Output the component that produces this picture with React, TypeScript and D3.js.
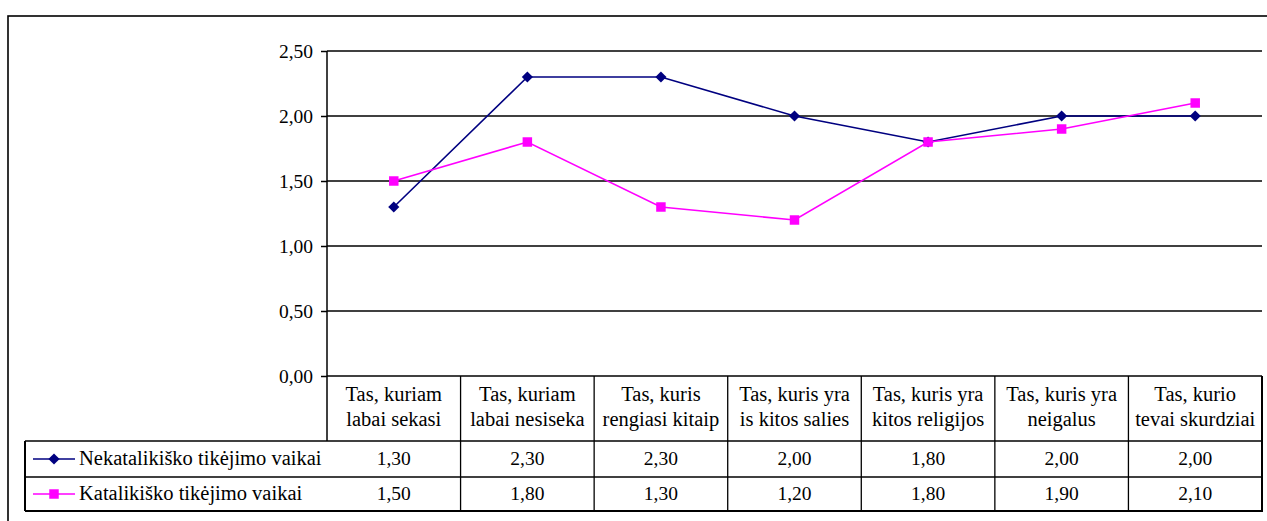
import React, { useEffect, useRef } from "react";
import * as d3 from "d3";

// categories (two text lines each, as in the table header)
const categories = [
  ["Tas, kuriam", "labai sekasi"],
  ["Tas, kuriam", "labai nesiseka"],
  ["Tas, kuris", "rengiasi kitaip"],
  ["Tas, kuris yra", "is kitos salies"],
  ["Tas, kuris yra", "kitos religijos"],
  ["Tas, kuris yra", "neigalus"],
  ["Tas, kurio", "tevai skurdziai"],
];
const seriesNames = ["Nekatalikiško tikėjimo vaikai", "Katalikiško tikėjimo vaikai"];
const nekatalikiskoValues = [1.3, 2.3, 2.3, 2.0, 1.8, 2.0, 2.0];
const katalikiskoValues = [1.5, 1.8, 1.3, 1.2, 1.8, 1.9, 2.1];
const yTicks = [0, 0.5, 1.0, 1.5, 2.0, 2.5];

var W = 1267, H = 521;
var plotLeft = 327, plotRight = 1262, plotTop = 51, plotBottom = 376;
var rowHead = 441, row1 = 477, row2 = 511, legendLeft = 25;
var font = "'Liberation Serif', 'Times New Roman', serif";

const fmt = (v: number) => d3.format(".2f")(v).replace(".", ",");

function App() {
  const ref = useRef<SVGSVGElement>(null);

  useEffect(() => {
    const svg = d3.select(ref.current);
    svg.selectAll("*").remove();

    const keys = categories.map((c, i) => String(i));
    const x = d3.scaleBand().domain(keys).range([plotLeft, plotRight]);
    const y = d3.scaleLinear().domain([0, 2.5]).range([plotBottom, plotTop]);

    // outer chart frame (runs off the picture right and bottom)
    svg.append("rect")
      .attr("x", 8).attr("y", 16)
      .attr("width", W).attr("height", H)
      .attr("fill", "white")
      .attr("stroke", "black").attr("stroke-width", 1.6);

    // gridlines
    svg.append("g")
      .selectAll("line")
      .data(yTicks.filter(t => t > 0))
      .join("line")
      .attr("x1", plotLeft).attr("x2", plotRight)
      .attr("y1", d => y(d)).attr("y2", d => y(d))
      .attr("stroke", "black").attr("stroke-width", 1.5);

    // y axis
    const ax = svg.append("g")
      .attr("transform", `translate(${plotLeft},0)`)
      .call(d3.axisLeft(y).tickValues(yTicks).tickSize(6).tickPadding(8).tickFormat((d: any) => fmt(+d)));
    ax.select(".domain").remove();
    ax.attr("font-family", null).attr("font-size", null);
    ax.selectAll("line").attr("stroke", "black").attr("stroke-width", 1.5);
    ax.selectAll("text")
      .style("font-family", font)
      .style("font-size", "19.5px")
      .attr("fill", "black");
    svg.append("line")
      .attr("x1", plotLeft).attr("x2", plotLeft)
      .attr("y1", plotTop).attr("y2", rowHead)
      .attr("stroke", "black").attr("stroke-width", 1.5);

    // data table
    const tbl = svg.append("g").attr("stroke", "black").attr("stroke-width", 1.3);
    tbl.append("line").attr("x1", plotLeft).attr("x2", plotRight).attr("y1", plotBottom).attr("y2", plotBottom).attr("stroke-width", 1.5);
    [rowHead, row1].forEach(yy => {
      tbl.append("line").attr("x1", legendLeft).attr("x2", plotRight).attr("y1", yy).attr("y2", yy);
    });
    tbl.append("line").attr("x1", legendLeft).attr("x2", plotRight + 1).attr("y1", row2).attr("y2", row2).attr("stroke-width", 2);
    tbl.append("line").attr("x1", legendLeft).attr("x2", legendLeft).attr("y1", rowHead).attr("y2", row2).attr("stroke-width", 2);
    tbl.append("line").attr("x1", plotRight).attr("x2", plotRight).attr("y1", plotBottom).attr("y2", row2).attr("stroke-width", 2);
    keys.slice(1).forEach(k => {
      tbl.append("line")
        .attr("x1", x(k)!).attr("x2", x(k)!)
        .attr("y1", plotBottom).attr("y2", row2);
    });

    // header labels
    const head = svg.append("g")
      .style("font-family", font).style("font-size", "20.5px")
      .attr("text-anchor", "middle").attr("fill", "black");
    categories.forEach((lines, i) => {
      const cx = x(keys[i])! + x.bandwidth() / 2;
      lines.forEach((t, j) => {
        head.append("text").attr("x", cx).attr("y", 401 + j * 25).text(t);
      });
    });

    const series = [
      { name: seriesNames[0], values: nekatalikiskoValues, color: "#000080", rot: 45, size: 62 },
      { name: seriesNames[1], values: katalikiskoValues, color: "#FF00FF", rot: 0, size: 90 },
    ];
    const rowMid = [(rowHead + row1) / 2, (row1 + row2) / 2];
    const cxOf = (i: number) => x(keys[i])! + x.bandwidth() / 2;

    series.forEach((s, si) => {
      // line
      svg.append("path")
        .datum(s.values)
        .attr("fill", "none")
        .attr("stroke", s.color)
        .attr("stroke-width", 1.6)
        .attr("d", d3.line<number>().x((d, i) => cxOf(i)).y(d => y(d)));
      // markers
      svg.append("g")
        .selectAll("path")
        .data(s.values)
        .join("path")
        .attr("transform", (d, i) => `translate(${cxOf(i)},${y(d)}) rotate(${s.rot})`)
        .attr("d", d3.symbol().type(d3.symbolSquare).size(s.size)())
        .attr("fill", s.color);

      // table values
      svg.append("g")
        .selectAll("text")
        .data(s.values)
        .join("text")
        .attr("x", (d, i) => cxOf(i))
        .attr("y", rowMid[si] + 6)
        .attr("text-anchor", "middle")
        .style("font-family", font).style("font-size", "19.5px")
        .text(d => fmt(d));

      // legend key
      const lg = svg.append("g").attr("transform", `translate(0,${rowMid[si]})`);
      lg.append("line").attr("x1", 33).attr("x2", 75).attr("y1", 0).attr("y2", 0)
        .attr("stroke", s.color).attr("stroke-width", 1.6);
      lg.append("path")
        .attr("transform", `translate(54,0) rotate(${s.rot})`)
        .attr("d", d3.symbol().type(d3.symbolSquare).size(s.size)())
        .attr("fill", s.color);
      lg.append("text").attr("x", 79).attr("y", 6)
        .style("font-family", font).style("font-size", "20.5px")
        .text(s.name);
    });
  }, []);

  return (
    <div style={{ position: "absolute", left: 0, top: 0 }}>
      <svg ref={ref} width={W} height={H} style={{ display: "block", background: "white" }}></svg>
    </div>
  );
}

export default App;
